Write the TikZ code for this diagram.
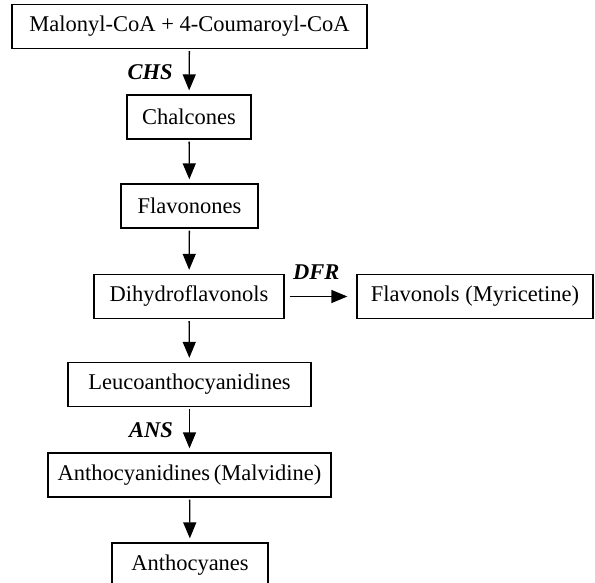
\documentclass[tikz,border=0pt]{standalone}
\usepackage{fontspec}
\setmainfont{Liberation Serif}
\usetikzlibrary{arrows.meta,positioning}

\begin{document}
\begin{tikzpicture}[x=1pt,y=-1pt,
                    every node/.style={font=\fontsize{22.5}{27}\selectfont},
                    box/.style={draw,line width=1.3pt,minimum height=44pt,inner sep=0pt},
                    enzyme/.style={font=\fontsize{22.5}{27}\selectfont\bfseries\itshape,inner sep=0pt},
                    flow/.style={line width=1.3pt,-{Triangle[width=13pt,length=16pt]},shorten <=2pt,shorten >=4pt}
]
\clip (0,0) rectangle (595,582);

\node [box,minimum width=355pt] at (189.5,26.5) (mal) {Malonyl-CoA + 4-Coumaroyl-CoA};
\node [box,minimum width=124pt] at (189,117) (chal) {Chalcones};
\node [box,minimum width=137pt] at (189.5,206) (flavon) {Flavonones};
\node [box,minimum width=190pt] at (189,296.5) (dihyd) {Dihydroflavonols};
\node [box,minimum width=236pt] at (475,296.5) (flavol) {Flavonols (Myricetine)};
\node [box,minimum width=243pt] at (189.5,384.5) (leuco) {Leucoanthocyanidines};
\node [box,minimum width=283pt] at (189.5,475) (antho) {Anthocyanidines\,(Malvidine)};
\node [box,minimum width=156pt] at (190,565) (anthoc) {Anthocyanes};
%
\draw [flow] (mal) -- node[enzyme,left=16pt] (chs) {CHS} (chal);
\draw [flow] (chal) -- (flavon);
\draw [flow] (flavon) -- (dihyd);
\draw [flow,shorten <=5pt,shorten >=9pt] (dihyd) -- node[enzyme,above=16pt,pos=.44] (dfr) {DFR} (flavol);
\draw [flow] (dihyd) -- (leuco);
\draw [flow] (leuco) -- node[enzyme,left=16pt] (ans) {ANS} (antho);
\draw [flow] (antho) -- (anthoc);
\end{tikzpicture}
\end{document}
